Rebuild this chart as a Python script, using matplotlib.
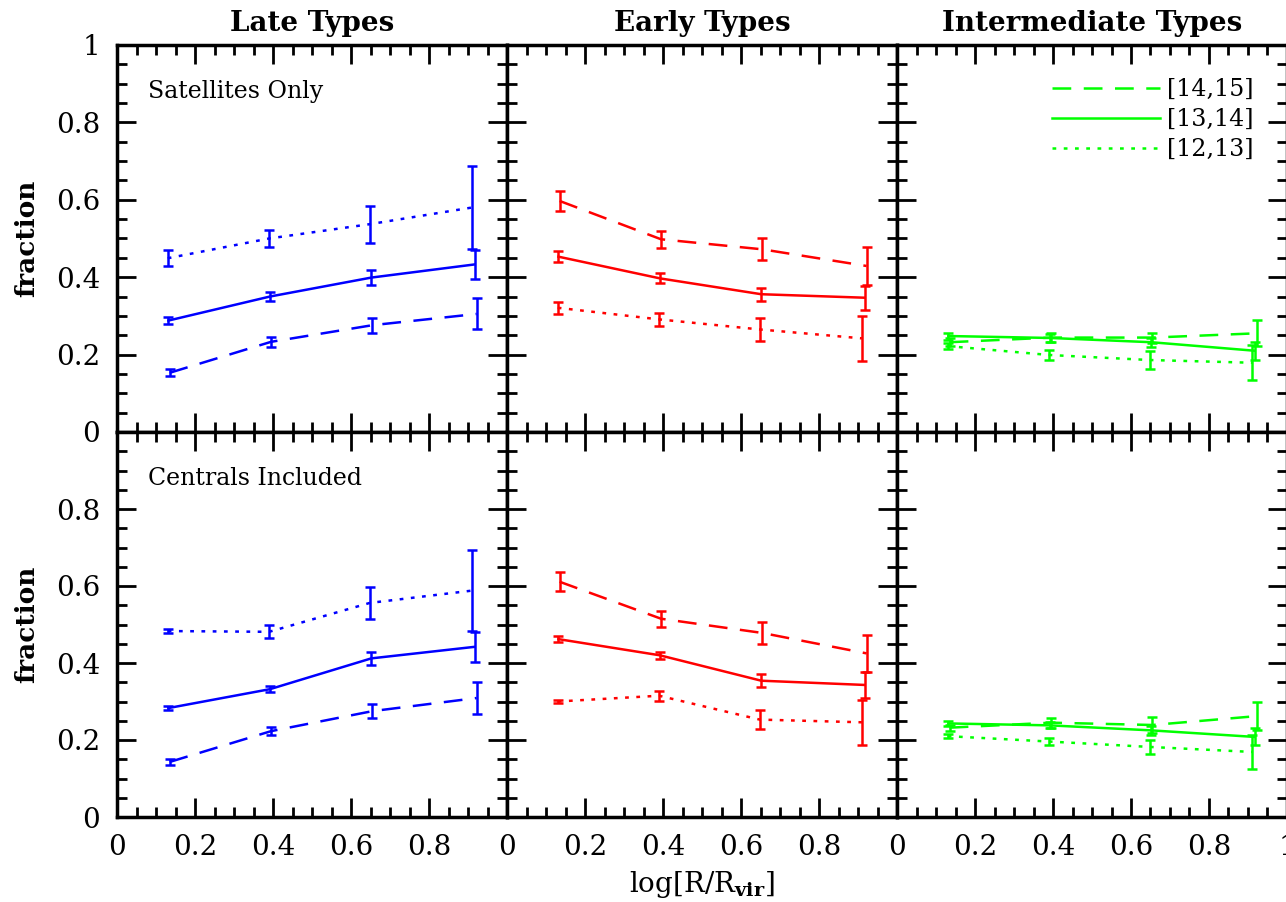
#!/usr/bin/env python
# coding: utf-8

# Morphological fractions vs. halo-centric radius, split by halo mass bin

import numpy             as np
import matplotlib        as mpl
mpl.use("Agg")
import matplotlib.pyplot as plt
from matplotlib.lines import Line2D
from matplotlib.ticker import MultipleLocator


# x positions of the radial bins (slightly offset per mass bin)
x_dash  = [0.135, 0.395, 0.655, 0.922]
x_solid = [0.132, 0.392, 0.652, 0.917]
x_dot   = [0.130, 0.390, 0.648, 0.910]

mass_labels = ["[14,15]", "[13,14]", "[12,13]"]
col_titles  = ["Late Types", "Early Types", "Intermediate Types"]
row_notes   = ["Satellites Only", "Centrals Included"]
colors      = ["#0000ff", "#ff0000", "#00ff00"]

# ---- Satellites only (top row) ----
late_sat_dash   = [0.153, 0.233, 0.276, 0.305]
late_sat_dash_e = [0.009, 0.013, 0.019, 0.040]
late_sat_sol    = [0.288, 0.350, 0.399, 0.433]
late_sat_sol_e  = [0.009, 0.011, 0.019, 0.037]
late_sat_dot    = [0.449, 0.500, 0.537, 0.580]
late_sat_dot_e  = [0.020, 0.022, 0.048, 0.107]

early_sat_dash   = [0.597, 0.498, 0.472, 0.429]
early_sat_dash_e = [0.027, 0.022, 0.028, 0.050]
early_sat_sol    = [0.453, 0.397, 0.356, 0.347]
early_sat_sol_e  = [0.014, 0.013, 0.017, 0.031]
early_sat_dot    = [0.321, 0.291, 0.265, 0.242]
early_sat_dot_e  = [0.015, 0.016, 0.030, 0.059]

int_sat_dash   = [0.232, 0.244, 0.244, 0.255]
int_sat_dash_e = [0.010, 0.012, 0.013, 0.034]
int_sat_sol    = [0.248, 0.243, 0.232, 0.210]
int_sat_sol_e  = [0.009, 0.010, 0.012, 0.023]
int_sat_dot    = [0.222, 0.199, 0.186, 0.179]
int_sat_dot_e  = [0.008, 0.013, 0.023, 0.045]

# ---- Centrals included (bottom row) ----
late_all_dash   = [0.143, 0.223, 0.275, 0.309]
late_all_dash_e = [0.008, 0.010, 0.019, 0.041]
late_all_sol    = [0.283, 0.332, 0.412, 0.442]
late_all_sol_e  = [0.005, 0.008, 0.017, 0.039]
late_all_dot    = [0.483, 0.481, 0.556, 0.588]
late_all_dot_e  = [0.005, 0.017, 0.042, 0.105]

early_all_dash   = [0.611, 0.515, 0.478, 0.425]
early_all_dash_e = [0.025, 0.021, 0.028, 0.049]
early_all_sol    = [0.462, 0.420, 0.354, 0.343]
early_all_sol_e  = [0.008, 0.009, 0.017, 0.033]
early_all_dot    = [0.300, 0.315, 0.253, 0.246]
early_all_dot_e  = [0.004, 0.013, 0.025, 0.058]

int_all_dash   = [0.232, 0.245, 0.239, 0.262]
int_all_dash_e = [0.008, 0.013, 0.020, 0.036]
int_all_sol    = [0.243, 0.238, 0.225, 0.208]
int_all_sol_e  = [0.006, 0.008, 0.011, 0.022]
int_all_dot    = [0.210, 0.196, 0.182, 0.169]
int_all_dot_e  = [0.006, 0.010, 0.019, 0.045]


panels = [
    [(late_sat_dash, late_sat_dash_e, late_sat_sol, late_sat_sol_e, late_sat_dot, late_sat_dot_e),
     (early_sat_dash, early_sat_dash_e, early_sat_sol, early_sat_sol_e, early_sat_dot, early_sat_dot_e),
     (int_sat_dash, int_sat_dash_e, int_sat_sol, int_sat_sol_e, int_sat_dot, int_sat_dot_e)],
    [(late_all_dash, late_all_dash_e, late_all_sol, late_all_sol_e, late_all_dot, late_all_dot_e),
     (early_all_dash, early_all_dash_e, early_all_sol, early_all_sol_e, early_all_dot, early_all_dot_e),
     (int_all_dash, int_all_dash_e, int_all_sol, int_all_sol_e, int_all_dot, int_all_dot_e)],
]

plt.rcParams['font.family'] = ['DejaVu Serif']
plt.rcParams['mathtext.fontset'] = 'dejavuserif'

W, H = 1286, 902
fig = plt.figure(figsize=(W / 100, H / 100), dpi=100)

left0  = 117 / W
pw     = 390 / W
bottoms = [(H - 432) / H, (H - 817) / H]
heights = [387 / H, 385 / H]

dash_style = (0, (7.5, 5))
dot_style  = (0, (1.5, 3))
lw = 1.8


def fmt(v, p):
    if abs(v) < 1e-9:
        return "0"
    if abs(v - 1) < 1e-9:
        return "1"
    return "%.1f" % v


for r in range(2):
    for c in range(3):
        ax = fig.add_axes([left0 + c * pw, bottoms[r], pw, heights[r]])
        d, de, s, se, o, oe = panels[r][c]
        col = colors[c]

        for xs, ys, es, ls in [(x_dash, d, de, dash_style),
                               (x_solid, s, se, '-'),
                               (x_dot, o, oe, dot_style)]:
            line = ax.errorbar(xs, ys, yerr=es, color=col, lw=lw, capsize=3.8,
                               capthick=lw, elinewidth=lw)
            line[0].set_linestyle(ls)

        ax.set_xlim(0, 1)
        ax.set_ylim(0, 1)

        if r == 1 and c < 2:
            ax.set_xticks([0, 0.2, 0.4, 0.6, 0.8])
        else:
            ax.xaxis.set_major_locator(MultipleLocator(0.2))
        if r == 1:
            ax.set_yticks([0, 0.2, 0.4, 0.6, 0.8])
        else:
            ax.yaxis.set_major_locator(MultipleLocator(0.2))
        ax.xaxis.set_minor_locator(MultipleLocator(0.05))
        ax.yaxis.set_minor_locator(MultipleLocator(0.05))
        ax.xaxis.set_major_formatter(plt.FuncFormatter(fmt))
        ax.yaxis.set_major_formatter(plt.FuncFormatter(fmt))

        ax.tick_params(which='both', direction='in', top=True, right=True,
                       width=2, labelsize=20, pad=12)
        ax.tick_params(which='major', length=14)
        ax.tick_params(which='minor', length=7)
        for sp in ax.spines.values():
            sp.set_linewidth(2.5)

        if r == 0:
            ax.set_title(col_titles[c], fontsize=20, fontweight='bold', pad=10)
            ax.tick_params(labelbottom=False)

        if c == 0:
            ax.set_ylabel("fraction", fontsize=19, fontweight='bold', labelpad=12)
            ax.text(0.08, 0.88, row_notes[r], transform=ax.transAxes,
                    fontsize=17, va='center')
        else:
            ax.tick_params(labelleft=False)

        if r == 0 and c == 2:
            handles = [Line2D([], [], color=col, lw=lw, ls=dash_style),
                       Line2D([], [], color=col, lw=lw, ls='-'),
                       Line2D([], [], color=col, lw=lw, ls=dot_style)]
            ax.legend(handles, mass_labels, loc='upper right', frameon=False,
                      fontsize=17, handlelength=4.6, handletextpad=0.3,
                      labelspacing=0.3, borderpad=0, borderaxespad=0,
                      bbox_to_anchor=(0.915, 0.915))

        if r == 1 and c == 1:
            ax.set_xlabel(r"log[R/R$_{\mathbf{vir}}$]", fontsize=20, labelpad=6)

plt.savefig("out.png", dpi=100)
